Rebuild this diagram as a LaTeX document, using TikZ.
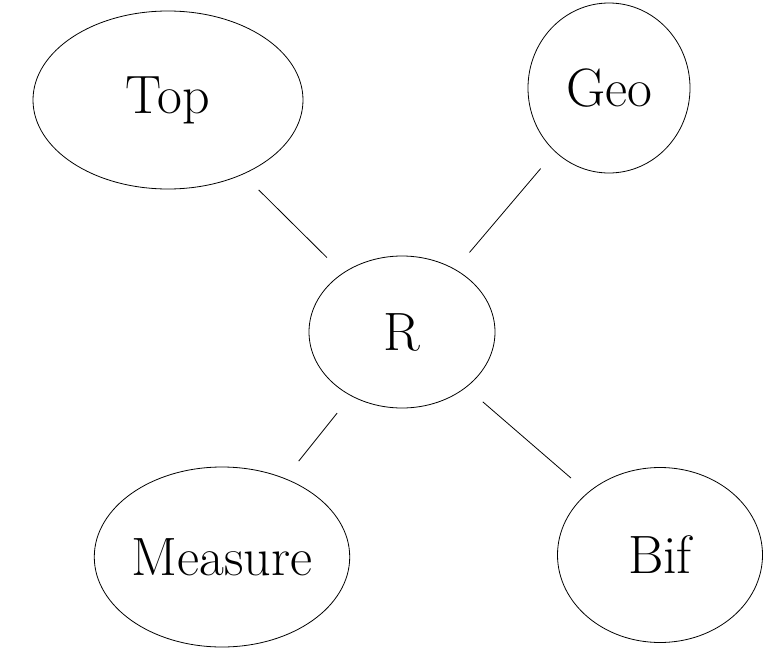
\documentclass[tikz,border=0pt]{standalone}
\usepackage{amssymb}
\usepackage{tikz}
\usetikzlibrary{shapes}

\begin{document}
\begin{tikzpicture}[x=1pt,y=-1pt]
  \tikzstyle{blob}=[ellipse,draw=black,thick,inner sep=0pt,font=\fontsize{54}{60}\selectfont]
  \tikzstyle{link}=[thick,shorten >=22pt,shorten <=22pt]

  \useasboundingbox (0,0) rectangle (769,656);

  \node [blob,minimum width=270pt,minimum height=178pt] (top) at (168,100) {Top};
  \node [blob,minimum width=162pt,minimum height=170pt] (geo) at (609,88) {Geo};
  \node [blob,minimum width=186pt,minimum height=152pt] (r) at (402,332) {R};
  \node [blob,minimum width=250pt,minimum height=180pt] (measure) at (222,557) {Measure};
  \node [blob,minimum width=205pt,minimum height=175pt] (bif) at (660,555) {Bif};

  \draw [link] (top) -- (r);
  \draw [link] (geo) -- (r);
  \draw [link] (r) -- (measure);
  \draw [link] (r) -- (bif);
\end{tikzpicture}
\end{document}
